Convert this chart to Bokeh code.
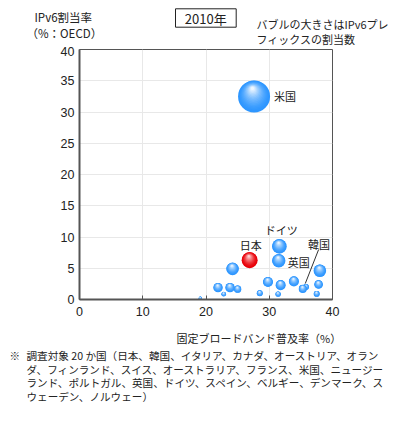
import math
from bokeh.plotting import figure
from bokeh.layouts import column
from bokeh.models import Range1d, Label, ColumnDataSource, FixedTicker, Segment
from bokeh.embed import file_html
from bokeh.resources import INLINE

# ---- data ----
countries = ["米国", "日本", "ドイツ", "英国", "c5", "c6", "c7", "c8", "c9", "c10",
             "c11", "c12", "c13", "韓国", "c15", "c16", "c17", "c18", "c19", "c20"]
broadband = [27.6, 26.9, 31.6, 31.5, 24.2, 38.0, 37.8, 37.5, 33.9, 31.8,
             31.4, 29.8, 28.5, 35.8, 35.3, 21.9, 23.8, 25.0, 22.8, 19.1]
ipv6_rate = [32.5, 6.3, 8.5, 6.2, 4.9, 4.6, 2.4, 0.9, 2.9, 2.3,
             0.85, 2.8, 1.0, 2.0, 1.7, 1.9, 1.9, 1.65, 0.85, 0.2]
prefixes = [100, 25, 21, 17.5, 15.5, 15.5, 7.2, 3.5, 9.8, 9.8,
            2.8, 9.8, 3.5, 3.5, 6.3, 8.6, 8.6, 5.3, 2.1, 1.1]
x_ticks = [0, 10, 20, 30, 40]
y_ticks = [0, 5, 10, 15, 20, 25, 30, 35, 40]
XMAX, YMAX = 40, 40

# ---- layout ----
W = 399
TOP_H, MAIN_H, BOT_H = 46, 278, 107
ML, MR, MT, MB = 79, 67, 3, 25
FW, FH = W - ML - MR, MAIN_H - MT - MB
PXX, PXY = FW / XMAX, FH / YMAX
JP = "Noto Sans CJK JP"
TXT = "#222222"


def blank_fig(h, y0, y1):
    f = figure(width=W, height=h, output_backend="svg", toolbar_location=None,
               x_range=Range1d(0, W), y_range=Range1d(y1, y0),
               x_axis_type=None, y_axis_type=None, min_border=0)
    f.frame_align = False
    f.outline_line_color = None
    f.background_fill_color = "white"
    f.border_fill_color = "white"
    return f


def put(f, x, y, s, size="11px", align="left"):
    f.add_layout(Label(x=x, y=y, text=s, text_align=align, text_baseline="middle",
                       text_font=JP, text_font_size=size, text_color=TXT))


# ---- top strip: titles ----
top = blank_fig(TOP_H, 0, TOP_H)
top.quad(left=[175], right=[235.7], top=[8.3], bottom=[26.7],
         fill_color=None, line_color=TXT, line_width=1)
put(top, 205.3, 17.6, "2010年", size="13px", align="center")
put(top, 34, 16.7, "IPv6割当率", size="11.5px")
put(top, 26, 32.3, "（%：OECD）", size="11.5px")
put(top, 256, 23.8, "バブルの大きさはIPv6プレ", size="11px")
put(top, 256, 38.2, "フィックスの割当数", size="11px")

# ---- main chart ----
p = figure(width=W, height=MAIN_H, output_backend="svg", toolbar_location=None,
           x_range=Range1d(0, XMAX), y_range=Range1d(0, YMAX),
           min_border_left=ML, min_border_right=MR, min_border_top=MT, min_border_bottom=MB)
p.frame_align = False
p.outline_line_color = "#555555"
p.outline_line_width = 1
p.background_fill_color = "white"
p.border_fill_color = "white"

for ax in (p.xaxis[0], p.yaxis[0]):
    ax.axis_line_color = "#555555"
    ax.axis_line_width = 2
    ax.minor_tick_line_color = None
    ax.major_label_text_font = "Liberation Sans"
    ax.major_label_text_font_size = "12.5px"
    ax.major_label_text_color = TXT
p.xaxis.ticker = FixedTicker(ticks=x_ticks)
p.yaxis.ticker = FixedTicker(ticks=y_ticks)
p.xaxis.major_tick_in = 4
p.xaxis.major_tick_out = 0
p.xaxis.major_tick_line_color = "#555555"
p.xaxis.major_tick_line_width = 1
p.xaxis.major_label_standoff = 7
p.yaxis.major_tick_in = 0
p.yaxis.major_tick_out = 0
p.yaxis.major_label_standoff = 5
p.xgrid.grid_line_color = "#e8e8e8"
p.ygrid.grid_line_color = "#e8e8e8"

# shaded bubbles: layered circles imitate the radial gradient
NL = 16
RMAX = 16.0
pmax = max(prefixes)
xs, ys, ss, cs = [], [], [], []
for name, bx, by, pf in zip(countries, broadband, ipv6_rate, prefixes):
    r = RMAX * math.sqrt(pf / pmax)
    if name == "日本":
        c0, c1 = (232, 0, 8), (255, 215, 215)
    else:
        c0, c1 = (45, 150, 255), (238, 247, 255)
    for k in range(NL):
        t = k / (NL - 1)
        rk = r * (1 - 0.9 * t)
        offx = -0.1 * r * t
        offy = 0.5 * r * t
        e = t ** 1.6
        col = "#%02x%02x%02x" % tuple(int(round(a + (b - a) * e)) for a, b in zip(c0, c1))
        xs.append(bx + offx / PXX)
        ys.append(by + offy / PXY)
        ss.append(2 * rk)
        cs.append(col)
src = ColumnDataSource(dict(x=xs, y=ys, size=ss, color=cs))
p.scatter("x", "y", size="size", fill_color="color", line_color=None, source=src)

# bubble labels (offsets in screen px, y up)
label_offsets = {"米国": (20, 0, "left"), "日本": (1, 15, "center"), "ドイツ": (2, 16, "center"),
                 "英国": (9, -1, "left"), "韓国": (13, 43, "center")}
for name, bx, by in zip(countries, broadband, ipv6_rate):
    if name in label_offsets:
        dx, dy, al = label_offsets[name]
        p.add_layout(Label(x=bx, y=by, x_offset=dx, y_offset=dy, text=name,
                           text_align=al, text_baseline="middle", text_font=JP,
                           text_font_size="11px", text_color=TXT))
        if name == "韓国":
            seg = ColumnDataSource(dict(x0=[bx + 12.7 / PXX], y0=[by + 37.5 / PXY],
                                        x1=[bx - 0.7 / PXX], y1=[by + 3.4 / PXY]))
            p.add_glyph(seg, Segment(x0="x0", y0="y0", x1="x1", y1="y1",
                                     line_color="#333333", line_width=1))

# ---- bottom strip: axis title and footnote ----
bot = blank_fig(BOT_H, TOP_H + MAIN_H, TOP_H + MAIN_H + BOT_H)
put(bot, 176, 337, "固定ブロードバンド普及率（%）", size="11px")
put(bot, 9, 355, "※", size="10.6px")
foot = ["調査対象 20 か国（日本、韓国、イタリア、カナダ、オーストリア、オラン",
        "ダ、フィンランド、スイス、オーストラリア、フランス、米国、ニュージー",
        "ランド、ポルトガル、英国、ドイツ、スペイン、ベルギー、デンマーク、ス",
        "ウェーデン、ノルウェー）"]
for i, line in enumerate(foot):
    put(bot, 26, 355 + 13.6 * i, line, size="10.6px")

layout = column(top, p, bot, spacing=0)
open("out.html", "w").write(file_html(layout, INLINE))
